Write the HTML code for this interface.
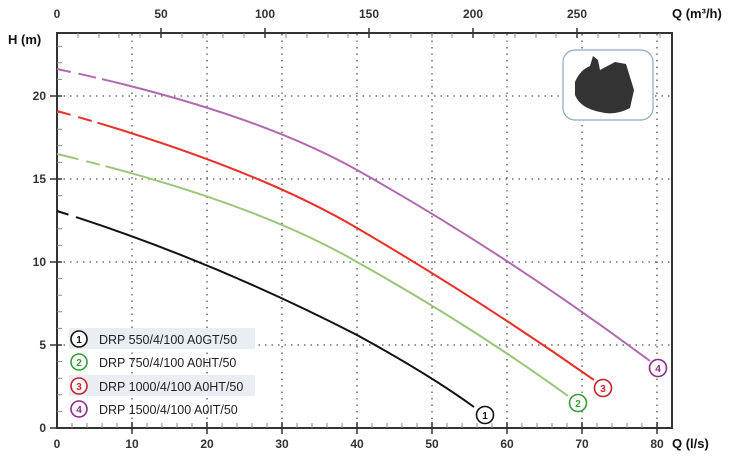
<!DOCTYPE html><html><head><style>body{margin:0;background:#fff}svg{display:block}</style></head><body>
<svg width="738" height="463" viewBox="0 0 738 463" xmlns="http://www.w3.org/2000/svg" font-family="Liberation Sans, sans-serif">
<g stroke="#555" stroke-width="1.3" stroke-dasharray="1.5 5">
<line x1="132" y1="34" x2="132" y2="428"/><line x1="207" y1="34" x2="207" y2="428"/><line x1="282" y1="34" x2="282" y2="428"/><line x1="357" y1="34" x2="357" y2="428"/><line x1="432" y1="34" x2="432" y2="428"/><line x1="507" y1="34" x2="507" y2="428"/><line x1="582" y1="34" x2="582" y2="428"/><line x1="657" y1="34" x2="657" y2="428"/>
<line x1="57" y1="345" x2="672" y2="345"/><line x1="57" y1="262" x2="672" y2="262"/><line x1="57" y1="179" x2="672" y2="179"/><line x1="57" y1="96" x2="672" y2="96"/>
</g>
<rect x="57" y="33" width="615" height="395" fill="none" stroke="#333" stroke-width="2"/>
<g stroke="#888" stroke-width="1">
<path d="M72 428v-5M87 428v-5M102 428v-5M117 428v-5M147 428v-5M162 428v-5M177 428v-5M192 428v-5M222 428v-5M237 428v-5M252 428v-5M267 428v-5M297 428v-5M312 428v-5M327 428v-5M342 428v-5M372 428v-5M387 428v-5M402 428v-5M417 428v-5M447 428v-5M462 428v-5M477 428v-5M492 428v-5M522 428v-5M537 428v-5M552 428v-5M567 428v-5M597 428v-5M612 428v-5M627 428v-5M642 428v-5"/>
<path d="M57 411.4h5M57 394.8h5M57 378.2h5M57 361.6h5M57 328.4h5M57 311.8h5M57 295.2h5M57 278.6h5M57 245.4h5M57 228.8h5M57 212.2h5M57 195.6h5M57 162.4h5M57 145.8h5M57 129.2h5M57 112.6h5M57 79.4h5M57 62.8h5M57 46.2h5"/>
<path d="M78 33v5M99 33v5M119 33v5M140 33v5M182 33v5M203 33v5M223 33v5M244 33v5M286 33v5M307 33v5M328 33v5M348 33v5M390 33v5M411 33v5M432 33v5M452 33v5M494 33v5M515 33v5M536 33v5M556 33v5M598 33v5M619 33v5M640 33v5M660 33v5"/>
</g>
<g stroke="#333" stroke-width="1.5">
<line x1="132" y1="422" x2="132" y2="434"/><line x1="207" y1="422" x2="207" y2="434"/><line x1="282" y1="422" x2="282" y2="434"/><line x1="357" y1="422" x2="357" y2="434"/><line x1="432" y1="422" x2="432" y2="434"/><line x1="507" y1="422" x2="507" y2="434"/><line x1="582" y1="422" x2="582" y2="434"/><line x1="657" y1="422" x2="657" y2="434"/>
<line x1="50" y1="345" x2="62" y2="345"/><line x1="50" y1="262" x2="62" y2="262"/><line x1="50" y1="179" x2="62" y2="179"/><line x1="50" y1="96" x2="62" y2="96"/><line x1="50" y1="428" x2="57" y2="428"/>
<line x1="161" y1="28" x2="161" y2="38"/><line x1="265" y1="28" x2="265" y2="38"/><line x1="369" y1="28" x2="369" y2="38"/><line x1="473" y1="28" x2="473" y2="38"/><line x1="577" y1="28" x2="577" y2="38"/>
</g>
<g font-size="12" fill="#333" text-anchor="middle" font-weight="bold">
<text x="57" y="448">0</text><text x="132" y="448">10</text><text x="207" y="448">20</text><text x="282" y="448">30</text><text x="357" y="448">40</text><text x="432" y="448">50</text><text x="507" y="448">60</text><text x="582" y="448">70</text><text x="657" y="448">80</text>
<text x="57" y="18">0</text><text x="161" y="18">50</text><text x="265" y="18">100</text><text x="369" y="18">150</text><text x="473" y="18">200</text><text x="577" y="18">250</text>
</g>
<g font-size="12" fill="#333" text-anchor="end" font-weight="bold">
<text x="46" y="432">0</text><text x="46" y="349">5</text><text x="46" y="266">10</text><text x="46" y="183">15</text><text x="46" y="100">20</text>
</g>
<text x="8" y="44" font-size="13" font-weight="bold" fill="#111">H (m)</text>
<text x="672" y="18" font-size="13" font-weight="bold" fill="#111">Q (m³/h)</text>
<text x="672" y="448" font-size="13" font-weight="bold" fill="#111">Q (l/s)</text>
<g fill="none" stroke-width="2">
<path d="M57 211 Q207 258 357 335 Q430 375 474 407" stroke="#111" stroke-dasharray="12 8 2000"/>
<path d="M57 154 Q250 200 357 262 Q470 325 568 396" stroke="#9cc47a" stroke-dasharray="22 8 14 6 2000"/>
<path d="M57 111 Q250 165 357 228 Q480 300 594 380" stroke="#e8302a" stroke-dasharray="14 8 14 6 2000"/>
<path d="M57 69 Q250 110 357 170 Q500 250 650 361" stroke="#b06aae" stroke-dasharray="14 8 18 6 2000"/>
</g>
<rect x="69" y="328" width="186" height="21" fill="#e8eef3"/>
<rect x="69" y="375" width="186" height="21" fill="#e8eef3"/>
<g fill="#fff" stroke-width="1.6">
<circle cx="79" cy="339" r="8" stroke="#111"/><circle cx="79" cy="362" r="8" stroke="#3a9a3a"/><circle cx="79" cy="386" r="8" stroke="#c8202a"/><circle cx="79" cy="409" r="8" stroke="#8a2a8a"/>
<circle cx="485" cy="415" r="8.5" stroke="#111"/><circle cx="578" cy="403" r="8.5" stroke="#3a9a3a"/><circle cx="603" cy="388" r="8.5" stroke="#c8202a"/><circle cx="658" cy="368" r="8.5" stroke="#8a2a8a"/>
</g>
<g font-size="10" font-weight="bold" text-anchor="middle">
<text x="79" y="343" fill="#111">1</text><text x="79" y="366" fill="#3a9a3a">2</text><text x="79" y="390" fill="#c8202a">3</text><text x="79" y="413" fill="#8a2a8a">4</text>
<text x="485" y="419" fill="#111">1</text><text x="578" y="407" fill="#3a9a3a">2</text><text x="603" y="392" fill="#c8202a">3</text><text x="658" y="372" fill="#8a2a8a">4</text>
</g>
<g font-size="12.5" fill="#222">
<text x="99" y="344">DRP 550/4/100 A0GT/50</text><text x="99" y="367">DRP 750/4/100 A0HT/50</text><text x="99" y="391">DRP 1000/4/100 A0HT/50</text><text x="99" y="414">DRP 1500/4/100 A0IT/50</text>
</g>
<rect x="563" y="50" width="90" height="70" rx="12" fill="#fff" stroke="#8eaabf" stroke-width="1.2"/>
<path d="M575 82 Q580 70 590 66 L593 56 L598 60 L600 70 L615 62 L626 64 L634 90 L630 108 Q615 116 600 112 Q580 108 575 95 Z" fill="#333"/>
</svg>
</body></html>
